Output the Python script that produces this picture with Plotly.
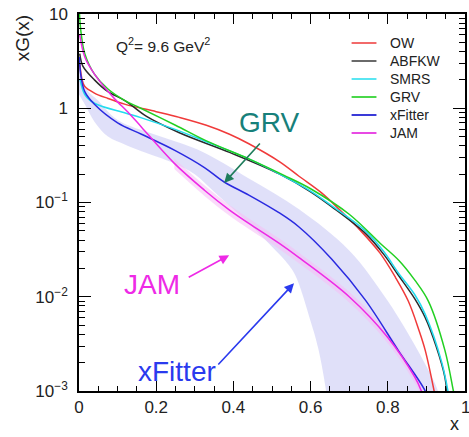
import math
import plotly.graph_objects as go

# Gluon momentum distributions xG(x) at Q^2 = 9.6 GeV^2
ow_x = [0.002, 0.008, 0.015, 0.04, 0.075, 0.12, 0.2, 0.26, 0.33, 0.39, 0.44, 0.52, 0.57, 0.63, 0.68, 0.73, 0.78, 0.82, 0.853, 0.88, 0.897, 0.92, 0.93]
ow_y = [3.0, 2.0, 1.7, 1.45, 1.27, 1.1, 0.92, 0.8, 0.66, 0.53, 0.42, 0.27, 0.19, 0.125, 0.08, 0.05, 0.029, 0.016, 0.009, 0.0045, 0.0027, 0.001, 0.0006]

abfkw_x = [0.002, 0.01, 0.04, 0.075, 0.12, 0.175, 0.26, 0.39, 0.52, 0.6, 0.655, 0.742, 0.79, 0.827, 0.87, 0.897, 0.925, 0.948, 0.955]
abfkw_y = [3.8, 2.8, 2.0, 1.5, 1.2, 0.82, 0.55, 0.34, 0.2, 0.13, 0.09, 0.047, 0.028, 0.017, 0.0095, 0.006, 0.003, 0.0014, 0.0008]

smrs_x = [0.003, 0.015, 0.04, 0.12, 0.162, 0.247, 0.325, 0.44, 0.52, 0.6, 0.655, 0.742, 0.79, 0.827, 0.87, 0.897, 0.94, 0.96]
smrs_y = [2.0, 1.4, 1.13, 0.89, 0.79, 0.6, 0.45, 0.29, 0.2, 0.132, 0.092, 0.05, 0.03, 0.018, 0.0105, 0.0065, 0.002, 0.0008]

grv_x = [0.001, 0.005, 0.015, 0.04, 0.075, 0.12, 0.16, 0.25, 0.33, 0.44, 0.53, 0.6, 0.7, 0.78, 0.83, 0.87, 0.905, 0.948, 0.97, 0.975]
grv_y = [10.5, 6.5, 3.8, 2.3, 1.6, 1.2, 1.0, 0.66, 0.45, 0.29, 0.195, 0.14, 0.075, 0.037, 0.024, 0.015, 0.009, 0.0027, 0.001, 0.0008]

xfitter_x = [0.001, 0.005, 0.015, 0.04, 0.1, 0.162, 0.247, 0.325, 0.376, 0.44, 0.518, 0.57, 0.655, 0.742, 0.827, 0.897, 0.91]
xfitter_y = [3.5, 2.2, 1.5, 1.1, 0.7, 0.53, 0.36, 0.235, 0.165, 0.12, 0.078, 0.055, 0.025, 0.0092, 0.0027, 0.001, 0.0007]

jam_x = [0.002, 0.015, 0.04, 0.07, 0.093, 0.13, 0.162, 0.247, 0.325, 0.39, 0.44, 0.518, 0.57, 0.7, 0.8, 0.87, 0.887, 0.895]
jam_y = [6.0, 3.5, 2.3, 1.6, 1.25, 0.88, 0.63, 0.26, 0.135, 0.083, 0.06, 0.037, 0.026, 0.01, 0.0037, 0.0014, 0.001, 0.0008]

# xFitter uncertainty band (upper and lower edges)
band_up_x = [0.0, 0.02, 0.05, 0.1, 0.2, 0.31, 0.44, 0.57, 0.7, 0.8, 0.887, 0.93, 0.94]
band_up_y = [3.6, 1.6, 1.2, 0.75, 0.52, 0.36, 0.18, 0.085, 0.031, 0.009, 0.0023, 0.001, 0.0006]
band_lo_x = [0.0, 0.015, 0.04, 0.075, 0.12, 0.162, 0.247, 0.3, 0.35, 0.4, 0.45, 0.5, 0.535, 0.56, 0.6, 0.62, 0.64, 0.645]
band_lo_y = [1.4, 1.1, 0.72, 0.5, 0.41, 0.35, 0.26, 0.2, 0.13, 0.085, 0.055, 0.034, 0.024, 0.017, 0.0055, 0.0028, 0.001, 0.0006]

# JAM uncertainty (relative half-width)
jam_rel_err = 0.13

y_tick_vals = [1e-3, 1e-2, 1e-1, 1, 10]
y_tick_text = ["10<sup>\u22123</sup>", "10<sup>\u22122</sup>", "10<sup>\u22121</sup>", "1", "10"]
x_tick_vals = [0, 0.2, 0.4, 0.6, 0.8]
x_tick_text = ["0", "0.2", "0.4", "0.6", "0.8"]
x_last_tick = (1.0, "1")

series = [
    ("OW", ow_x, ow_y, "#f03a3a"),
    ("ABFKW", abfkw_x, abfkw_y, "#2b2b2b"),
    ("SMRS", smrs_x, smrs_y, "#22dcef"),
    ("GRV", grv_x, grv_y, "#22d022"),
    ("xFitter", xfitter_x, xfitter_y, "#2a2ae0"),
    ("JAM", jam_x, jam_y, "#ee2ae6"),
]
legend_colors = ["#f26a6a", "#6a6a6a", "#5ae6f2", "#4ad84a", "#3a3ad8", "#e84ae4"]

# page geometry (pixels)
W, H = 469, 437
L, R, T, B = 79, 2, 14, 46
pw, ph = W - L - R, H - T - B


def px_to_paper(px, py):
    return (px - L) / pw, 1 - (py - T) / ph


FONT = "Liberation Sans, Arial"

fig = go.Figure()

# bands first so the curves sit on top
fig.add_trace(go.Scatter(
    x=band_up_x + band_lo_x[::-1], y=band_up_y + band_lo_y[::-1],
    fill="toself", fillcolor="rgba(214,214,247,0.75)", mode="lines",
    line=dict(width=0, shape="spline"), showlegend=False, hoverinfo="skip"))

jx = [x for x in jam_x if x >= 0.2]
jy = [y for x, y in zip(jam_x, jam_y) if x >= 0.2]
fig.add_trace(go.Scatter(
    x=jx + jx[::-1],
    y=[v * (1 + jam_rel_err) for v in jy] + [v * (1 - jam_rel_err) for v in jy[::-1]],
    fill="toself", fillcolor="rgba(245,190,245,0.55)", mode="lines",
    line=dict(width=0, shape="spline"), showlegend=False, hoverinfo="skip"))

for name, xs, ys, col in series:
    fig.add_trace(go.Scatter(x=xs, y=ys, mode="lines", name=name, showlegend=False,
                             line=dict(color=col, width=1.5, shape="spline")))

axis_common = dict(showline=True, linecolor="black", linewidth=1.5, mirror="ticks",
                   ticks="inside", tickcolor="black", showgrid=False, zeroline=False,
                   tickfont=dict(family=FONT, size=17, color="#222"))

fig.update_xaxes(range=[0, 1], tickvals=x_tick_vals, ticktext=x_tick_text, ticklen=10,
                 minor=dict(dtick=0.05, ticklen=5, ticks="inside", tickcolor="black"),
                 **axis_common)
fig.update_yaxes(type="log", range=[-3, 1], tickvals=y_tick_vals, ticktext=y_tick_text, ticklen=12,
                 ticklabelstandoff=6,
                 minor=dict(tickvals=[m * 10 ** e for e in range(-3, 1) for m in range(2, 10)],
                            ticklen=6, ticks="inside", tickcolor="black"),
                 **axis_common)

# the x = 1 label sits on the page edge
fig.add_annotation(x=x_last_tick[0], y=px_to_paper(0, 407)[1], xref="x", yref="paper",
                   text=x_last_tick[1], showarrow=False, xanchor="center", yanchor="middle",
                   font=dict(family=FONT, size=17, color="#222"))

# labelled arrows: (text, colour, label centre px, arrow tail px, arrow tip in data coords)
callouts = [
    ("GRV", "#17807a", "#1f7d5c", (270, 122), (262, 142), (0.376, 0.161)),
    ("JAM", "#ee2ae6", "#ee2ae6", (152, 284), (188, 278), (0.389, 0.0275)),
    ("xFitter", "#2a3aee", "#2a3aee", (178, 371), (218, 366), (0.557, 0.0139)),
]
for text, tcol, acol, (lx, ly), (tx, ty), (hx, hy) in callouts:
    tip_px = L + hx * pw
    tip_py = T + (1 - (math.log10(hy) + 3) / 4) * ph
    fig.add_annotation(x=hx, y=math.log10(hy), xref="x", yref="y", text="",
                       showarrow=True, arrowhead=2, arrowsize=1.2, arrowwidth=1.6,
                       arrowcolor=acol, axref="pixel", ayref="pixel",
                       ax=tx - tip_px, ay=ty - tip_py)
    px, py = px_to_paper(lx, ly)
    fig.add_annotation(x=px, y=py, xref="paper", yref="paper", text=text, showarrow=False,
                       xanchor="center", yanchor="middle",
                       font=dict(family=FONT, size=28, color=tcol))

# legend drawn as short line samples with labels
legend_rows = [43, 61, 79, 97, 115, 133]
for (name, _, _, _), col, ry in zip(series, legend_colors, legend_rows):
    x0, y0 = px_to_paper(353, ry)
    x1, _ = px_to_paper(378, ry)
    fig.add_shape(type="line", xref="paper", yref="paper", x0=x0, x1=x1, y0=y0, y1=y0,
                  line=dict(color=col, width=2))
    tx, ty = px_to_paper(390, ry)
    fig.add_annotation(x=tx, y=ty, xref="paper", yref="paper", text=name, showarrow=False,
                       xanchor="left", yanchor="middle",
                       font=dict(family=FONT, size=14, color="#222"))

qx, qy = px_to_paper(163, 45)
fig.add_annotation(x=qx, y=qy, xref="paper", yref="paper",
                   text="Q<sup>2</sup>= 9.6 GeV<sup>2</sup>", showarrow=False,
                   xanchor="center", yanchor="middle",
                   font=dict(family=FONT, size=15.5, color="#222"))
yx, yy = px_to_paper(22, 38)
fig.add_annotation(x=yx, y=yy, xref="paper", yref="paper", text="xG(x)", textangle=-90,
                   showarrow=False, xanchor="center", yanchor="middle",
                   font=dict(family=FONT, size=19, color="#222"))
xx, xy = px_to_paper(456, 424)
fig.add_annotation(x=xx, y=xy, xref="paper", yref="paper", text="x", showarrow=False,
                   xanchor="center", yanchor="middle",
                   font=dict(family=FONT, size=18, color="#222"))

fig.update_layout(
    width=W, height=H, margin=dict(l=L, r=R, t=T, b=B),
    paper_bgcolor="white", plot_bgcolor="white", showlegend=False,
)

fig.write_html("out.html")
